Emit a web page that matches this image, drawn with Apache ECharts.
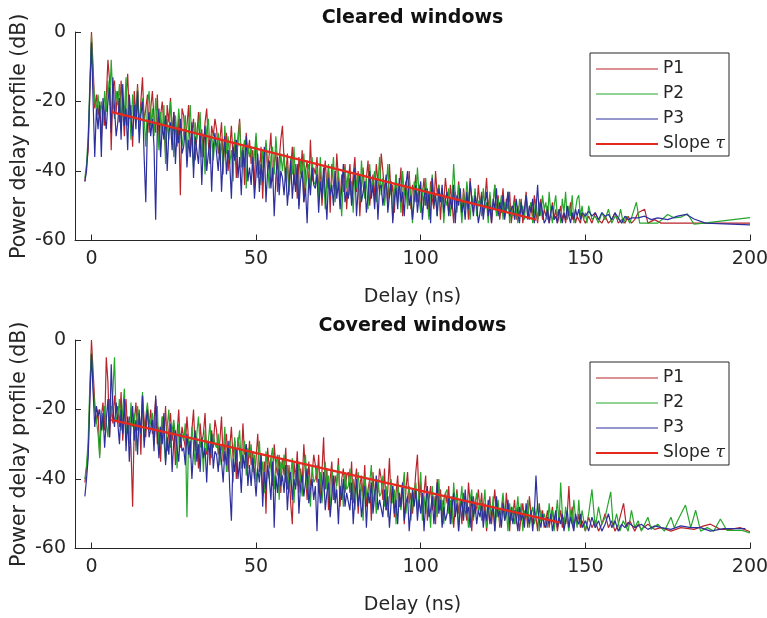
<!DOCTYPE html>
<html>
<head>
<meta charset="utf-8">
<title>Power delay profile</title>
<script src="https://cdn.jsdelivr.net/npm/echarts@6/dist/echarts.min.js"></script>
<style>
  html, body { margin: 0; padding: 0; background: #ffffff; }
  #chart { width: 767px; height: 618px; }
</style>
</head>
<body>
<div id="chart"></div>
<script>
// sampling grid of the dense part of each profile (ns)
const DELAY_START = -2
const DELAY_STEP = 0.5

const xTickValues = [0, 50, 100, 150, 200]
const titles = ['Cleared windows', 'Covered windows']
const seriesNames = ['P1', 'P2', 'P3', 'Slope τ']

// ---- Cleared windows (dB), one row = 10 ns ----
const clearedP1 = [
  -43, -39, -34, -18, 0, -10, -22, -18, -24, -20, -31, -21, -27, -19, -8, -14, -34, -16, -14, -23,
  -17, -26, -14, -22, -30, -19, -12, -25, -21, -33, -17, -24, -15, -28, -20, -13, -26, -22, -18, -29,
  -22, -17, -25, -29, -18, -31, -24, -20, -27, -35, -21, -26, -19, -30, -23, -28, -33, -25, -47, -22,
  -24, -31, -27, -21, -34, -29, -25, -37, -30, -23, -33, -28, -36, -26, -22, -32, -38, -27, -30, -25,
  -28, -35, -31, -26, -38, -33, -29, -40, -34, -27, -36, -31, -42, -30, -25, -37, -33, -44, -29, -35,
  -31, -38, -34, -45, -30, -37, -41, -33, -48, -36, -32, -40, -35, -29, -43, -38, -34, -46, -37, -31,
  -27, -37, -42, -35, -46, -39, -33, -44, -38, -48, -36, -41, -34, -49, -40, -37, -45, -31, -43, -39,
  -41, -36, -46, -39, -50, -43, -37, -45, -40, -52, -38, -44, -47, -35, -42, -49, -41, -46, -38, -51,
  -43, -38, -48, -41, -36, -46, -40, -53, -44, -39, -47, -42, -37, -50, -45, -41, -48, -38, -43, -46,
  -35, -40, -46, -42, -50, -38, -47, -44, -52, -41, -48, -45, -39, -53, -46, -43, -49, -40, -51, -44,
  -46, -41, -49, -44, -52, -47, -42, -50, -45, -53, -43, -48, -51, -40, -47, -44, -54, -46, -49, -42,
  -47, -52, -44, -49, -55, -46, -51, -43, -48, -53, -45, -50, -47, -54, -42, -49, -52, -46, -51, -44,
  -50, -46, -53, -48, -42, -51, -47, -55, -49, -44, -52, -47, -54, -50, -45, -53, -48, -51, -46, -55,
  -51, -47, -54, -50, -53, -48, -55, -52, -46, -51, -54, -49, -53, -47, -52, -55, -50, -48, -54, -51,
  -53, -50, -55, -52, -49, -54, -51, -55, -53, -50, -54, -52, -55, -51, -53, -49, -54, -52, -55, -53
]
const clearedP2 = [
  -42, -38, -30, -15, -1, -14, -20, -22, -18, -24, -20, -27, -17, -23, -14, -21, -8, -19, -25, -17,
  -21, -15, -28, -19, -24, -13, -27, -20, -31, -18, -23, -26, -16, -29, -22, -19, -25, -33, -21, -17,
  -27, -22, -30, -19, -26, -34, -23, -29, -21, -38, -25, -31, -20, -27, -36, -24, -30, -22, -28, -33,
  -29, -24, -35, -28, -21, -32, -39, -26, -31, -27, -23, -36, -30, -41, -28, -25, -33, -29, -37, -31,
  -33, -29, -37, -31, -41, -27, -35, -30, -38, -34, -43, -29, -36, -32, -26, -39, -34, -31, -45, -33,
  -36, -33, -40, -35, -29, -42, -37, -44, -34, -39, -31, -38, -45, -36, -33, -41, -30, -37, -43, -35,
  -40, -35, -43, -38, -47, -36, -41, -33, -44, -39, -50, -37, -42, -35, -46, -40, -38, -45, -36, -43,
  -44, -39, -48, -36, -45, -41, -51, -43, -38, -47, -42, -36, -49, -44, -40, -46, -53, -42, -39, -45,
  -40, -47, -43, -52, -39, -45, -41, -49, -37, -44, -48, -42, -51, -38, -46, -43, -40, -49, -44, -36,
  -47, -42, -50, -45, -38, -48, -43, -54, -46, -41, -49, -44, -52, -40, -47, -45, -51, -42, -48, -55,
  -43, -49, -39, -47, -52, -45, -50, -42, -48, -54, -46, -41, -50, -47, -53, -44, -49, -45, -55, -48,
  -50, -45, -53, -48, -38, -47, -52, -44, -49, -55, -46, -51, -43, -48, -54, -47, -50, -45, -53, -49,
  -48, -53, -45, -51, -49, -55, -46, -52, -50, -44, -53, -48, -51, -47, -54, -49, -52, -46, -55, -50,
  -53, -49, -51, -55, -48, -52, -50, -54, -47, -53, -51, -49, -55, -52, -48, -54, -50, -53, -47, -51,
  -49, -54, -46, -52, -55, -50, -47, -53, -51, -55, -48, -52, -46, -54, -50, -53, -47, -55, -51, -48
]
const clearedP3 = [
  -43, -40, -32, -17, -3, -20, -36, -22, -28, -21, -36, -19, -24, -28, -20, -16, -29, -13, -22, -30,
  -26, -19, -31, -15, -27, -22, -34, -18, -25, -30, -21, -28, -17, -32, -24, -20, -36, -49, -27, -23,
  -30, -25, -33, -54, -28, -22, -36, -27, -31, -24, -40, -29, -26, -34, -23, -38, -28, -32, -25, -35,
  -33, -28, -39, -31, -36, -26, -42, -30, -34, -38, -29, -44, -32, -27, -40, -35, -31, -46, -33, -29,
  -35, -40, -32, -46, -36, -30, -41, -34, -38, -48, -33, -37, -31, -42, -36, -47, -34, -39, -30, -43,
  -39, -44, -36, -48, -41, -35, -46, -38, -43, -33, -49, -40, -37, -45, -39, -53, -42, -36, -47, -40,
  -42, -47, -39, -50, -44, -37, -48, -41, -46, -38, -51, -43, -40, -49, -45, -55, -42, -47, -39, -44,
  -45, -41, -52, -43, -48, -39, -46, -54, -42, -47, -44, -50, -40, -48, -43, -51, -45, -38, -49, -46,
  -48, -42, -50, -44, -39, -53, -45, -41, -49, -46, -43, -52, -47, -40, -48, -44, -51, -42, -54, -45,
  -44, -50, -46, -41, -52, -47, -43, -55, -48, -45, -51, -42, -49, -46, -53, -44, -40, -50, -47, -54,
  -49, -44, -52, -47, -43, -54, -48, -45, -51, -46, -55, -42, -50, -47, -53, -45, -49, -44, -52, -48,
  -46, -53, -48, -51, -44, -55, -47, -50, -45, -52, -49, -54, -46, -51, -43, -48, -53, -47, -50, -55,
  -52, -47, -54, -49, -46, -53, -50, -55, -48, -51, -45, -53, -49, -52, -47, -54, -50, -46, -53, -51,
  -50, -54, -48, -52, -55, -49, -53, -51, -47, -54, -50, -52, -48, -55, -51, -44, -53, -49, -52, -55,
  -54, -51, -55, -52, -50, -54, -53, -55, -51, -53, -55, -52, -54, -50, -53, -55, -52, -54, -51, -53
]
// sparse tails [delay ns, dB]
const clearedP1Tail = [
  [148, -53], [148.5, -55], [149, -52], [149.5, -54], [150, -55], [151, -53], [152, -55], [153, -52],
  [154, -54], [155, -55], [156, -53], [157, -55], [158, -54], [159, -52], [160, -55], [161, -54],
  [162, -55], [163, -53], [164, -55], [165, -54], [166, -52], [168, -51], [169, -55], [171, -54],
  [173, -55], [185, -55], [200, -55]
]
const clearedP2Tail = [
  [148, -47], [148.5, -53], [149, -50], [149.5, -54], [150, -52], [150.5, -55], [151, -50], [152, -54],
  [153, -53], [154, -55], [155, -52], [156, -54], [157, -51], [158, -55], [159, -53], [160, -54],
  [160.7, -51], [161.5, -55], [162.5, -53], [163.5, -55], [165.5, -49], [166.5, -55], [172, -55],
  [175, -52.5], [177, -53.5], [179, -53.3], [181, -52.3], [183, -55.3], [186, -55], [200, -53.4]
]
const clearedP3Tail = [
  [148, -51], [148.5, -54], [149, -52], [150, -53], [151, -51.5], [152, -53], [153, -52], [154, -54],
  [155, -52], [156, -53], [157, -52.5], [158, -54], [159, -52], [160, -53.5], [161, -55], [162, -53],
  [163, -54], [164, -53.5], [166, -53.5], [168, -53], [170, -54], [172, -53.5], [175, -54], [178, -53],
  [180.7, -52.5], [183, -53.8], [186.5, -55], [200, -55.5]
]
const clearedSlope = [[6, -23], [135, -54]]

// ---- Covered windows (dB) ----
const coveredP1 = [
  -41, -37, -32, -16, 0, -9, -18, -24, -20, -33, -22, -18, -26, -5, -12, -28, -19, -24, -16, -21,
  -19, -25, -15, -29, -21, -17, -27, -22, -31, -48, -24, -18, -26, -20, -33, -16, -23, -28, -19, -25,
  -20, -27, -23, -17, -30, -25, -35, -22, -28, -19, -32, -26, -21, -29, -24, -36, -27, -20, -31, -25,
  -25, -31, -22, -29, -34, -26, -20, -32, -28, -37, -24, -30, -27, -21, -33, -29, -36, -26, -31, -23,
  -26, -33, -29, -22, -35, -30, -27, -38, -31, -25, -34, -29, -40, -28, -32, -36, -24, -33, -30, -37,
  -29, -36, -32, -40, -34, -27, -38, -33, -45, -35, -50, -31, -37, -34, -42, -30, -36, -39, -33, -44,
  -34, -39, -31, -43, -36, -47, -53, -35, -40, -32, -44, -37, -41, -30, -38, -46, -35, -42, -39, -33,
  -36, -41, -33, -45, -38, -28, -43, -37, -49, -40, -35, -46, -39, -42, -34, -48, -40, -37, -44, -39,
  -38, -44, -35, -47, -41, -37, -50, -42, -39, -45, -36, -48, -43, -40, -52, -38, -46, -41, -44, -37,
  -40, -46, -37, -49, -43, -34, -47, -42, -51, -44, -39, -48, -45, -41, -53, -43, -38, -47, -44, -50,
  -45, -38, -33, -47, -41, -50, -44, -39, -52, -46, -42, -49, -45, -53, -40, -48, -43, -51, -46, -44,
  -47, -42, -51, -45, -54, -48, -43, -50, -46, -53, -44, -49, -52, -41, -47, -55, -45, -50, -48, -43,
  -49, -44, -52, -47, -55, -50, -45, -53, -48, -43, -51, -47, -54, -49, -46, -52, -44, -50, -55, -48,
  -50, -46, -53, -48, -55, -51, -47, -52, -49, -54, -45, -50, -53, -48, -51, -55, -47, -52, -49, -54,
  -52, -49, -54, -51, -48, -53, -50, -55, -52, -49, -54, -51, -53, -50, -42, -52, -48, -54, -51, -53
]
const coveredP2 = [
  -40, -36, -29, -13, -3, -13, -20, -23, -27, -34, -21, -26, -19, -24, -28, -17, -22, -15, -5, -23,
  -22, -17, -26, -20, -14, -28, -23, -30, -18, -25, -21, -32, -19, -24, -27, -15, -29, -22, -18, -26,
  -26, -21, -30, -24, -19, -33, -27, -22, -29, -35, -25, -20, -31, -26, -23, -28, -37, -24, -30, -27,
  -29, -24, -51, -28, -33, -25, -30, -36, -27, -22, -31, -28, -38, -26, -32, -29, -24, -34, -27, -30,
  -31, -27, -36, -30, -33, -25, -38, -32, -29, -35, -41, -28, -34, -30, -26, -37, -33, -29, -39, -31,
  -34, -30, -38, -33, -41, -36, -29, -39, -35, -44, -32, -37, -40, -34, -31, -43, -36, -33, -46, -35,
  -37, -33, -41, -36, -44, -39, -34, -47, -38, -42, -35, -40, -45, -37, -33, -43, -39, -48, -36, -41,
  -40, -36, -44, -38, -47, -41, -35, -43, -39, -50, -37, -42, -46, -40, -36, -45, -41, -48, -38, -43,
  -42, -37, -46, -40, -49, -43, -38, -45, -41, -52, -39, -44, -47, -41, -36, -48, -43, -50, -40, -45,
  -44, -39, -48, -42, -51, -45, -40, -47, -43, -53, -41, -46, -49, -43, -38, -50, -45, -42, -52, -46,
  -46, -41, -49, -44, -38, -52, -45, -50, -43, -47, -54, -42, -48, -45, -51, -40, -49, -46, -53, -44,
  -43, -50, -46, -53, -41, -48, -44, -55, -47, -42, -51, -45, -49, -54, -46, -43, -52, -47, -44, -50,
  -46, -52, -48, -43, -54, -49, -47, -51, -45, -55, -50, -46, -53, -48, -44, -51, -49, -55, -47, -52,
  -48, -53, -50, -45, -52, -47, -55, -49, -51, -46, -54, -50, -48, -53, -51, -47, -55, -49, -52, -50,
  -50, -54, -47, -52, -49, -55, -51, -46, -53, -41, -50, -54, -48, -52, -55, -49, -53, -46, -51, -54
]
const coveredP3 = [
  -45, -40, -34, -18, -4, -15, -25, -19, -22, -20, -26, -21, -31, -23, -17, -28, -7, -20, -25, -18,
  -24, -30, -20, -27, -17, -32, -22, -35, -25, -19, -29, -23, -33, -21, -27, -16, -31, -24, -20, -28,
  -28, -23, -32, -16, -27, -34, -25, -30, -21, -36, -28, -33, -24, -38, -29, -26, -31, -35, -27, -32,
  -31, -36, -27, -33, -29, -40, -32, -26, -35, -30, -38, -28, -34, -31, -41, -29, -33, -27, -37, -32,
  -33, -38, -30, -35, -41, -32, -36, -29, -43, -52, -34, -38, -31, -40, -35, -44, -33, -37, -30, -42,
  -36, -42, -34, -39, -45, -37, -41, -33, -48, -38, -43, -36, -40, -46, -35, -54, -39, -44, -37, -42,
  -39, -44, -36, -49, -41, -38, -46, -40, -43, -35, -50, -42, -39, -45, -41, -37, -47, -43, -40, -46,
  -42, -55, -40, -47, -43, -38, -49, -44, -41, -51, -45, -39, -47, -43, -53, -42, -46, -40, -48, -44,
  -44, -49, -41, -53, -45, -40, -48, -43, -51, -46, -42, -54, -44, -47, -41, -50, -45, -39, -49, -46,
  -46, -51, -43, -49, -45, -54, -47, -42, -50, -46, -53, -44, -48, -41, -52, -47, -45, -55, -49, -43,
  -48, -43, -52, -46, -50, -44, -55, -47, -42, -51, -49, -45, -53, -47, -41, -50, -46, -54, -48, -52,
  -50, -45, -53, -48, -44, -51, -47, -55, -49, -46, -52, -43, -50, -48, -54, -45, -51, -47, -53, -49,
  -51, -47, -54, -49, -52, -46, -53, -50, -48, -55, -45, -51, -49, -54, -47, -52, -50, -46, -53, -49,
  -53, -49, -51, -55, -48, -52, -50, -54, -47, -51, -53, -49, -55, -50, -39, -48, -52, -54, -50, -53,
  -54, -51, -53, -50, -55, -52, -49, -54, -51, -53, -50, -55, -52, -49, -54, -51, -53, -55, -50, -52
]
const coveredP1Tail = [
  [148, -50], [148.5, -54], [149, -52], [150, -55], [151, -51], [152, -54], [153, -52], [154, -55],
  [155, -53], [156, -50], [157, -54], [158, -52], [159, -55], [160, -53], [161.6, -47], [162.5, -54],
  [163.5, -52], [165, -55], [166, -53], [167, -54.5], [169, -53], [171, -54.5], [173, -54], [176, -55],
  [179, -54], [183, -54.5], [186, -53.5], [188, -53], [191, -54.5], [194, -54.5], [197, -54], [200, -55.2]
]
const coveredP2Tail = [
  [148, -46], [148.5, -53], [149, -49], [150, -55], [151, -50], [152, -43], [153, -54], [154, -48],
  [155, -53], [156, -51], [157.7, -43.7], [158.5, -54], [159.5, -50], [160.5, -55], [161.5, -52],
  [163, -55], [164, -49], [165, -54], [166, -52], [167, -55], [169, -51], [170, -54.5], [172, -53],
  [174, -55], [176, -51], [177, -54], [178, -52], [180.4, -47.5], [182, -54], [183.5, -49], [185, -55],
  [187, -54], [189, -55], [191, -51.5], [193, -54.8], [197.6, -54.8], [200, -55.5]
]
const coveredP3Tail = [
  [148, -53], [148.5, -50], [149, -54], [150, -52], [151, -55], [152, -51], [153, -54], [154, -52],
  [155, -55], [156, -53], [157, -50], [158, -54], [159, -52], [160, -55], [161, -53], [162, -54],
  [163, -52.5], [165, -54], [167, -53], [169, -54.5], [171, -53.5], [173, -54], [176, -54.5],
  [179, -53.5], [182, -54], [185, -54], [188, -55], [192, -54.3], [198.6, -54.3]
]
const coveredSlope = [[6, -23], [142, -52.5]]

// 颜色
const colors = ['#b8242b', '#27a62c', '#2d2f9c', '#e4291f']
const FONT = 'DejaVu Sans, Liberation Sans, sans-serif'
const TEXT = '#262626'

// 图例线条：细线 / 粗线 (tiny zero-area marks keep the bounding box 2 units high)
const thinLine = 'path://M0,-1L0.01,-1Z M0,-0.5H62V0.5H0Z M0,1L0.01,1Z'
const thickLine = 'path://M0,-1H62V1H0Z'

// dense samples + sparse tail -> [x, y]
const toPoints = (values, tail) => {
  const pts = values.map((v, i) => [DELAY_START + i * DELAY_STEP, v])
  return pts.concat(tail)
}

const panels = [
  { p: [clearedP1, clearedP2, clearedP3], tails: [clearedP1Tail, clearedP2Tail, clearedP3Tail], slope: clearedSlope, top: 32, legendTop: 53, titleTop: 9 },
  { p: [coveredP1, coveredP2, coveredP3], tails: [coveredP1Tail, coveredP2Tail, coveredP3Tail], slope: coveredSlope, top: 340, legendTop: 362, titleTop: 317 }
]

const grid = []
const xAxis = []
const yAxis = []
const series = []
const legend = []
const title = []

panels.forEach((pn, k) => {
  grid.push({ left: 75, right: 17, top: pn.top, height: 208.5, containLabel: false, outerBoundsMode: 'none' })
  xAxis.push({
    gridIndex: k,
    type: 'value',
    min: -5,
    max: 200,
    name: 'Delay (ns)',
    nameLocation: 'middle',
    nameGap: 47,
    nameMoveOverlap: false,
    nameTextStyle: { fontSize: 19, color: TEXT, fontFamily: FONT },
    axisLine: { show: true, onZero: false, lineStyle: { color: TEXT, width: 1 } },
    axisTick: { show: true, inside: true, length: 6, customValues: xTickValues, lineStyle: { color: TEXT } },
    axisLabel: { customValues: xTickValues, fontSize: 19, color: TEXT, fontFamily: FONT, margin: 9 },
    splitLine: { show: false }
  })
  yAxis.push({
    gridIndex: k,
    type: 'value',
    min: -60,
    max: 0,
    interval: 20,
    name: 'Power delay profile (dB)',
    nameLocation: 'middle',
    nameRotate: 90,
    nameGap: 45,
    nameMoveOverlap: false,
    nameTextStyle: { fontSize: 20.5, color: TEXT, fontFamily: FONT },
    axisLine: { show: true, onZero: false, lineStyle: { color: TEXT, width: 1 } },
    axisTick: { show: true, inside: true, length: 6, lineStyle: { color: TEXT } },
    axisLabel: { fontSize: 19, color: TEXT, fontFamily: FONT, margin: 9 },
    splitLine: { show: false }
  })
  for (let i = 0; i < 3; i++) {
    series.push({
      name: seriesNames[i],
      type: 'line',
      xAxisIndex: k,
      yAxisIndex: k,
      symbol: 'none',
      sampling: false,
      lineStyle: { width: 1.2, color: colors[i] },
      itemStyle: { color: colors[i] },
      data: toPoints(pn.p[i], pn.tails[i])
    })
  }
  series.push({
    name: seriesNames[3],
    type: 'line',
    xAxisIndex: k,
    yAxisIndex: k,
    symbol: 'none',
    lineStyle: { width: 2.2, color: colors[3] },
    itemStyle: { color: colors[3] },
    z: 5,
    data: pn.slope
  })
  legend.push({
    data: seriesNames.map((n, i) => ({ name: n, icon: i === 3 ? thickLine : thinLine })),
    orient: 'vertical',
    right: 38,
    top: pn.legendTop,
    padding: [7, 4, 3, 6],
    itemGap: 7,
    itemWidth: 62,
    itemHeight: 2,
    backgroundColor: '#ffffff',
    borderColor: TEXT,
    borderWidth: 1,
    borderRadius: 0,
    selectedMode: false,
    formatter: name => name === 'Slope τ' ? '{n|Slope }{t|τ}' : name,
    textStyle: {
      fontSize: 17,
      lineHeight: 18,
      color: TEXT,
      fontFamily: FONT,
      rich: {
        n: { fontSize: 17, lineHeight: 18, color: TEXT, fontFamily: FONT },
        t: { fontSize: 17, lineHeight: 18, color: TEXT, fontStyle: 'italic', fontFamily: 'DejaVu Serif, serif' }
      }
    }
  })
  title.push({
    text: titles[k],
    left: 412.5,
    textAlign: 'center',
    top: pn.titleTop,
    padding: 0,
    textStyle: { fontSize: 19, fontWeight: 'bold', color: '#111111', fontFamily: FONT }
  })
})

const myChart = echarts.init(document.getElementById('chart'), null, { renderer: 'canvas' })
myChart.setOption({
  backgroundColor: '#ffffff',
  animation: false,
  title: title,
  legend: legend,
  grid: grid,
  xAxis: xAxis,
  yAxis: yAxis,
  series: series
})
</script>
</body>
</html>
